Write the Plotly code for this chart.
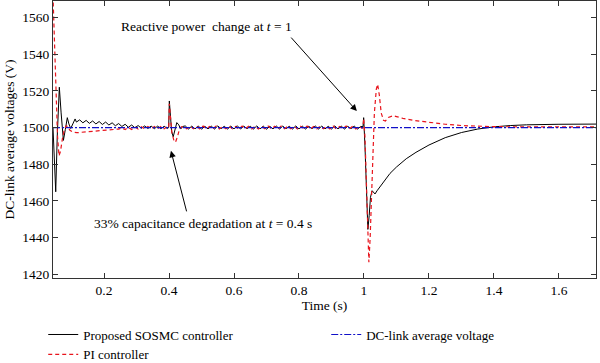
import plotly.graph_objects as go

# ---------------- data ----------------
t_sosmc = [0.043, 0.047, 0.0514, 0.056, 0.0625, 0.068, 0.075, 0.081, 0.087, 0.092, 0.0975, 0.104, 0.111,
           0.115, 0.125, 0.135, 0.145, 0.155, 0.165, 0.175, 0.185, 0.195, 0.205, 0.215, 0.225, 0.235, 0.245,
           0.255, 0.265, 0.275, 0.285, 0.295, 0.305, 0.315, 0.325, 0.335, 0.345, 0.355, 0.365, 0.375, 0.385, 0.395,
           0.399, 0.401, 0.404, 0.408, 0.413, 0.418, 0.424, 0.430, 0.436, 0.442,
           0.45, 0.46, 0.47, 0.48, 0.49, 0.50, 0.51, 0.52, 0.53, 0.54, 0.55, 0.56, 0.57, 0.58, 0.59, 0.60,
           0.61, 0.62, 0.63, 0.64, 0.65, 0.66, 0.67, 0.68, 0.69, 0.70, 0.71, 0.72, 0.73, 0.74, 0.75, 0.76,
           0.77, 0.78, 0.79, 0.80, 0.81, 0.82, 0.83, 0.84, 0.85, 0.86, 0.87, 0.88, 0.89, 0.90, 0.91, 0.92,
           0.93, 0.94, 0.95, 0.96, 0.97, 0.98, 0.99,
           0.997, 0.999, 1.003, 1.008, 1.012, 1.016, 1.020, 1.025, 1.030, 1.034,
           1.04, 1.05, 1.06, 1.08, 1.10, 1.13, 1.16, 1.20, 1.25, 1.30, 1.35, 1.40, 1.45, 1.50, 1.60, 1.714]
v_sosmc = [1500, 1485, 1465, 1495, 1522, 1508, 1493, 1499, 1505.4, 1502, 1499.5, 1502, 1504.7,
           1503.0, 1504.2, 1502.6, 1503.9, 1502.3, 1503.6, 1502.0, 1503.3, 1501.7, 1503.0, 1501.4, 1502.6, 1501.0, 1502.2,
           1500.6, 1501.8, 1500.2, 1501.4, 1499.9, 1501.1, 1499.6, 1500.9, 1499.5, 1500.8, 1499.4, 1500.8, 1499.4, 1500.7, 1499.5,
           1500.0, 1514.5, 1508.0, 1498.0, 1495.0, 1499.0, 1502.7, 1501.5, 1499.2, 1500.6,
           1500.9, 1499.2, 1500.8, 1499.3, 1500.9, 1499.1, 1500.7, 1499.3, 1500.8, 1499.2, 1500.9, 1499.4, 1500.7, 1499.2, 1500.8, 1499.3,
           1501.0, 1499.2, 1500.8, 1499.4, 1500.7, 1499.2, 1500.9, 1499.3, 1500.8, 1499.1, 1500.7, 1499.3, 1500.9, 1499.2, 1500.8, 1499.4,
           1500.7, 1499.2, 1500.9, 1499.3, 1500.8, 1499.2, 1500.7, 1499.4, 1500.9, 1499.2, 1500.8, 1499.3, 1500.7, 1499.2, 1500.9, 1499.3,
           1500.8, 1499.2, 1500.7, 1499.4, 1500.8, 1499.2, 1500.6,
           1500.5, 1505.4, 1490.0, 1460.0, 1444.5, 1452.0, 1462.0, 1465.6, 1464.5, 1463.8,
           1465.5, 1468.0, 1470.5, 1475.0, 1478.5, 1483.0, 1486.5, 1490.5, 1494.5, 1497.3, 1499.2, 1500.4, 1501.1, 1501.5, 1501.8, 1501.9]

t_pi = [0.043, 0.046, 0.049, 0.053, 0.057, 0.0615, 0.066, 0.072, 0.078, 0.084, 0.089, 0.095, 0.105, 0.116,
        0.13, 0.15, 0.17, 0.19, 0.21, 0.23, 0.245,
        0.255, 0.265, 0.275, 0.285, 0.295, 0.305, 0.315, 0.325, 0.335, 0.345, 0.355, 0.365, 0.375, 0.385, 0.395,
        0.399, 0.401, 0.404, 0.409, 0.415, 0.420, 0.426, 0.432, 0.438, 0.445,
        0.455, 0.465, 0.475, 0.485, 0.495, 0.505, 0.515, 0.525, 0.535, 0.545, 0.555, 0.565, 0.575, 0.585,
        0.595, 0.605, 0.615, 0.625, 0.635, 0.645, 0.655, 0.665, 0.675, 0.685, 0.695, 0.705, 0.715, 0.725,
        0.735, 0.745, 0.755, 0.765, 0.775, 0.785, 0.795, 0.805, 0.815, 0.825, 0.835, 0.845, 0.855, 0.865,
        0.875, 0.885, 0.895, 0.905, 0.915, 0.925, 0.935, 0.945, 0.955, 0.965, 0.975, 0.985, 0.994,
        0.997, 0.999, 1.003, 1.008, 1.012, 1.015, 1.019, 1.025, 1.032, 1.038, 1.042, 1.047, 1.053, 1.060,
        1.066, 1.075, 1.09, 1.10, 1.12, 1.15, 1.20, 1.25, 1.30, 1.35, 1.40, 1.50, 1.60, 1.714]
v_pi = [1572, 1555, 1538, 1515, 1495, 1484.6, 1487, 1494, 1499, 1501, 1500.5, 1498.5, 1497.5, 1497.2,
        1497.4, 1497.8, 1498.1, 1498.4, 1498.8, 1499.1, 1499.2,
        1499.8, 1498.9, 1500.1, 1499.0, 1500.3, 1499.2, 1500.5, 1499.3, 1500.6, 1499.3, 1500.6, 1499.4, 1500.6, 1499.3, 1500.5,
        1500.0, 1513.0, 1508.0, 1497.0, 1493.0, 1492.0, 1495.0, 1499.0, 1500.5, 1500.0,
        1499.3, 1500.8, 1499.4, 1500.7, 1499.2, 1500.8, 1499.4, 1500.6, 1499.3, 1500.8, 1499.2, 1500.7, 1499.4, 1500.8,
        1499.3, 1500.6, 1499.2, 1500.8, 1499.4, 1500.7, 1499.3, 1500.8, 1499.2, 1500.6, 1499.4, 1500.8, 1499.3, 1500.7,
        1499.2, 1500.8, 1499.4, 1500.6, 1499.3, 1500.8, 1499.2, 1500.7, 1499.4, 1500.8, 1499.3, 1500.6, 1499.2, 1500.8,
        1499.4, 1500.7, 1499.3, 1500.8, 1499.2, 1500.6, 1499.4, 1500.8, 1499.3, 1500.7, 1499.2, 1500.8, 1499.6,
        1500.0, 1505.0, 1495.0, 1460.0, 1435.0, 1426.6, 1440.0, 1475.0, 1508.0, 1521.0, 1523.6, 1518.0, 1508.0, 1504.0,
        1503.6, 1505.5, 1506.5, 1506.0, 1505.0, 1504.0, 1502.8, 1501.8, 1501.1, 1500.7, 1500.5, 1500.4, 1500.4, 1500.4]

t_ref = [0.043, 1.714]
v_ref = [1500, 1500]

x_tick_vals = [0.2, 0.4, 0.6, 0.8, 1.0, 1.2, 1.4, 1.6]
x_tick_text = ["0.2", "0.4", "0.6", "0.8", "1", "1.2", "1.4", "1.6"]
y_tick_vals = [1420, 1440, 1460, 1480, 1500, 1520, 1540, 1560]

FONT = "Liberation Serif, 'DejaVu Serif', serif"
FS = 13.5

fig = go.Figure()
fig.add_trace(go.Scatter(x=t_sosmc, y=v_sosmc, mode="lines", name="Proposed SOSMC controller",
                         line=dict(color="black", width=1), legendrank=1))
fig.add_trace(go.Scatter(x=t_pi, y=v_pi, mode="lines", name="PI controller",
                         line=dict(color="#e8141c", width=1.2, dash="4px,3px"), legendrank=3))
fig.add_trace(go.Scatter(x=t_ref, y=v_ref, mode="lines", name="DC-link average voltage",
                         line=dict(color="#1010c8", width=1.2, dash="7px,2px,2px,2px"), legendrank=2))

axis_common = dict(showline=True, linecolor="#333333", linewidth=1, mirror="ticks", ticks="inside",
                   ticklen=5, tickcolor="#333333", showgrid=False, zeroline=False, automargin=False,
                   tickfont=dict(family=FONT, size=FS, color="black"))

fig.update_xaxes(range=[0.043, 1.714], tickvals=x_tick_vals, ticktext=x_tick_text,
                 title=dict(text="Time (s)", font=dict(family=FONT, size=FS, color="black"), standoff=2),
                 **axis_common)
fig.update_yaxes(range=[1418, 1569], tickvals=y_tick_vals,
                 title=dict(text="DC-link average voltages (V)", font=dict(family=FONT, size=FS, color="black"),
                            standoff=4),
                 **axis_common)

fig.add_annotation(x=0.514, y=1555.3, text="Reactive power  change at <i>t</i> = 1", showarrow=False,
                   font=dict(family=FONT, size=FS, color="black"))
fig.add_annotation(x=0.978, y=1509, ax=-67, ay=-75, text="", showarrow=True, arrowhead=2,
                   arrowsize=1.3, arrowwidth=1, arrowcolor="black")
fig.add_annotation(x=0.505, y=1447.7, text="33% capacitance degradation at <i>t</i> = 0.4 s", showarrow=False,
                   font=dict(family=FONT, size=FS, color="black"))
fig.add_annotation(x=0.406, y=1487.3, ax=16, ay=62, text="", showarrow=True, arrowhead=2,
                   arrowsize=1.3, arrowwidth=1, arrowcolor="black")

fig.update_layout(
    width=600, height=363,
    margin=dict(l=53, r=4, t=1, b=85, autoexpand=False),
    paper_bgcolor="white", plot_bgcolor="white",
    font=dict(family=FONT, size=FS, color="black"),
    legend=dict(orientation="h", x=-0.018, y=-0.15, xanchor="left", yanchor="top",
                entrywidth=238, entrywidthmode="pixels", traceorder="normal",
                font=dict(family=FONT, size=13, color="black"), bgcolor="rgba(0,0,0,0)"),
    showlegend=True,
)

fig.write_html("out.html", config={"displayModeBar": False},
               post_script="document.body.style.margin='0px';document.body.style.padding='0px';")
